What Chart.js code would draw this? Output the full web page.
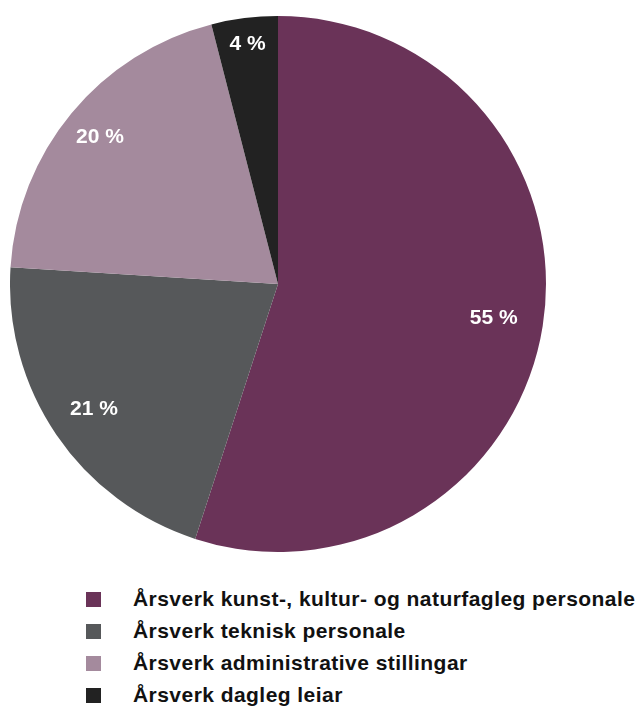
<!DOCTYPE html>
<html>
<head>
<meta charset="utf-8">
<script src="https://cdn.jsdelivr.net/npm/chart.js@4"></script>
<style>
  body { margin: 0; background: #fff; width: 639px; height: 709px; position: relative; overflow: hidden; }
  #wrap { position: absolute; left: 10px; top: 16px; width: 536px; height: 536px; }
  #legend { position: absolute; left: 86px; top: 583px; font-family: "Liberation Sans", Arial, sans-serif; font-weight: bold; font-size: 21px; letter-spacing: 0.45px; color: #111; white-space: nowrap; }
  .row { display: flex; align-items: center; height: 32px; }
  .box { width: 15px; height: 15px; margin-right: 32px; }
</style>
</head>
<body>
<div id="wrap"><canvas id="pie"></canvas></div>
<div id="legend"></div>
<script>
const labels = [
  "Årsverk kunst-, kultur- og naturfagleg personale",
  "Årsverk teknisk personale",
  "Årsverk administrative stillingar",
  "Årsverk dagleg leiar"
];
const values = [55, 21, 20, 4];
const colors = ["#6a3358", "#56585a", "#a48a9d", "#222222"];
const labelPos = [0.815, 0.83, 0.862, 0.903];

const legend = document.getElementById("legend");
labels.forEach((l, i) => {
  const row = document.createElement("div");
  row.className = "row";
  row.innerHTML = '<div class="box" style="background:' + colors[i] + '"></div><span>' + l + '</span>';
  legend.appendChild(row);
});

const pctLabels = {
  id: "pctLabels",
  afterDatasetsDraw(chart) {
    const ctx = chart.ctx;
    const meta = chart.getDatasetMeta(0);
    ctx.save();
    ctx.fillStyle = "#fff";
    ctx.font = "bold 21px 'Liberation Sans', Arial, sans-serif";
    ctx.textAlign = "center";
    ctx.textBaseline = "middle";
    meta.data.forEach((arc, i) => {
      const mid = (arc.startAngle + arc.endAngle) / 2;
      const r = arc.outerRadius * labelPos[i];
      ctx.fillText(values[i] + " %", arc.x + Math.cos(mid) * r, arc.y + Math.sin(mid) * r);
    });
    ctx.restore();
  }
};

new Chart(document.getElementById("pie"), {
  type: "pie",
  data: {
    labels: labels,
    datasets: [{
      data: values,
      backgroundColor: colors,
      borderWidth: 0
    }]
  },
  options: {
    responsive: true,
    maintainAspectRatio: false,
    animation: false,
    layout: { padding: 0 },
    plugins: {
      legend: { display: false },
      tooltip: { enabled: false }
    }
  },
  plugins: [pctLabels]
});
</script>
</body>
</html>
